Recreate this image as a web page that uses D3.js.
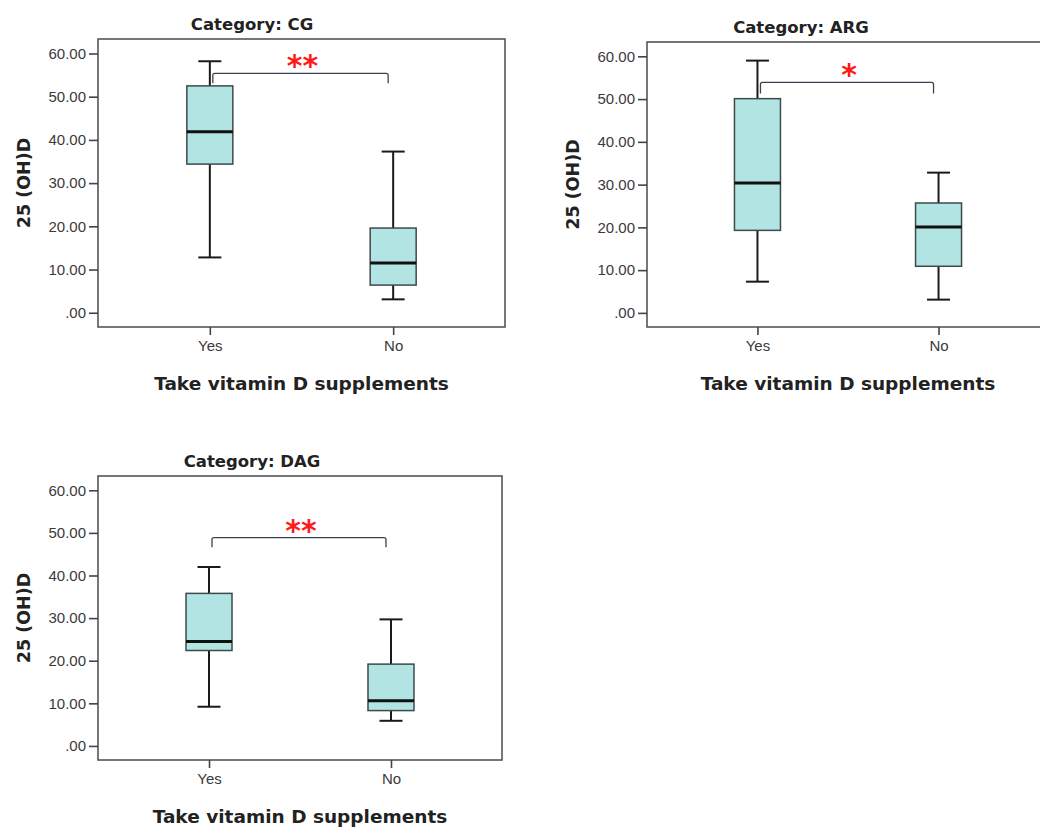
<!DOCTYPE html>
<html><head><meta charset="utf-8">
<script src="https://cdn.jsdelivr.net/npm/d3@7"></script>
<style>html,body{margin:0;padding:0;background:#fff;}</style>
</head><body>
<svg id="chart" width="1040" height="827"></svg>
<script>
// ---- data ----
const categories = ["Yes", "No"];
const panelNames = ["CG", "ARG", "DAG"];
const whiskerLow  = [[12.8, 3.1], [7.3, 3.1], [9.2, 5.9]];
const q1          = [[34.4, 6.4], [19.3, 10.9], [22.4, 8.3]];
const medians     = [[41.9, 11.5], [30.4, 20.1], [24.5, 10.6]];
const q3          = [[52.5, 19.6], [50.1, 25.7], [35.8, 19.2]];
const whiskerHigh = [[58.2, 37.3], [59.0, 32.8], [42.0, 29.7]];
const significance = ["**", "*", "**"];
const bracketLevel = [55.4, 53.9, 48.9];
const bracketFoot  = [53.1, 51.3, 46.6];
const yTicks = [0, 10, 20, 30, 40, 50, 60];
const xTitle = "Take vitamin D supplements";
const yTitle = "25 (OH)D";

// ---- layout ----
const frames = [
  {x0: 98,  x1: 505,  y0: 39,  y1: 327},
  {x0: 647, x1: 1049, y0: 42,  y1: 327},
  {x0: 98,  x1: 502,  y0: 476, y1: 760}
];
const svg = d3.select("#chart");
const sansReg = "'Liberation Sans', Arial, sans-serif";
const sansBold = "'DejaVu Sans', Verdana, sans-serif";

frames.forEach((f, i) => {
  const g = svg.append("g");
  const y = d3.scaleLinear().domain([-3.3, 63.35]).range([f.y1, f.y0]);
  const x = d3.scalePoint().domain(categories).range([f.x0, f.x1]).padding(0.61);

  // frame
  g.append("rect").attr("x", f.x0).attr("y", f.y0)
    .attr("width", f.x1 - f.x0).attr("height", f.y1 - f.y0)
    .attr("fill", "none").attr("stroke", "#555").attr("stroke-width", 1.6);

  // y axis
  const ya = g.append("g").attr("transform", `translate(${f.x0},0)`)
    .call(d3.axisLeft(y).tickValues(yTicks).tickSize(9).tickPadding(3)
      .tickFormat(d => d === 0 ? ".00" : d3.format(".2f")(d)));
  ya.select(".domain").remove();
  ya.selectAll(".tick line").attr("stroke", "#444").attr("stroke-width", 1.6);
  ya.selectAll(".tick text").attr("fill", "#3a3a3a").style("font-family", sansReg).style("font-size", "15px");

  // x axis
  const xa = g.append("g").attr("transform", `translate(0,${f.y1})`)
    .call(d3.axisBottom(x).tickSize(8).tickPadding(5));
  xa.select(".domain").remove();
  xa.selectAll(".tick line").attr("stroke", "#444").attr("stroke-width", 1.6);
  xa.selectAll(".tick text").attr("fill", "#3a3a3a").style("font-family", sansReg).style("font-size", "15px");

  // titles
  g.append("text").attr("x", f.x0 + 154).attr("y", f.y0 - 9)
    .attr("text-anchor", "middle").style("font-family", sansBold).style("font-weight", "bold")
    .style("font-size", "16.5px").attr("fill", "#222").text("Category: " + panelNames[i]);
  g.append("text").attr("x", (f.x0 + f.x1) / 2).attr("y", f.y1 + 63)
    .attr("text-anchor", "middle").style("font-family", sansBold).style("font-weight", "bold")
    .style("font-size", "18.5px").attr("fill", "#222").text(xTitle);
  g.append("text").attr("transform", `translate(${f.x0 - 68},${(f.y0 + f.y1) / 2}) rotate(-90)`)
    .attr("text-anchor", "middle").style("font-family", sansBold).style("font-weight", "bold")
    .style("font-size", "17.5px").attr("fill", "#222").text(yTitle);

  // boxes
  const boxW = 46, capW = 23;
  categories.forEach((c, j) => {
    const cx = x(c);
    g.append("line").attr("x1", cx).attr("x2", cx)
      .attr("y1", y(whiskerHigh[i][j])).attr("y2", y(q3[i][j]))
      .attr("stroke", "#1a1a1a").attr("stroke-width", 2);
    g.append("line").attr("x1", cx).attr("x2", cx)
      .attr("y1", y(q1[i][j])).attr("y2", y(whiskerLow[i][j]))
      .attr("stroke", "#1a1a1a").attr("stroke-width", 2);
    [whiskerHigh[i][j], whiskerLow[i][j]].forEach(v => {
      g.append("line").attr("x1", cx - capW / 2).attr("x2", cx + capW / 2)
        .attr("y1", y(v)).attr("y2", y(v))
        .attr("stroke", "#1a1a1a").attr("stroke-width", 2);
    });
    g.append("rect").attr("x", cx - boxW / 2).attr("y", y(q3[i][j]))
      .attr("width", boxW).attr("height", y(q1[i][j]) - y(q3[i][j]))
      .attr("fill", "#b3e4e4").attr("stroke", "#3c4a4a").attr("stroke-width", 1.5);
    g.append("line").attr("x1", cx - boxW / 2).attr("x2", cx + boxW / 2)
      .attr("y1", y(medians[i][j])).attr("y2", y(medians[i][j]))
      .attr("stroke", "#111").attr("stroke-width", 3);
  });

  // significance bracket
  const bx0 = x(categories[0]) + 3, bx1 = x(categories[1]) - 5;
  const by = y(bracketLevel[i]), bf = y(bracketFoot[i]);
  g.append("path")
    .attr("d", `M${bx0},${bf} L${bx0},${by + 2} Q${bx0},${by} ${bx0 + 2},${by} L${bx1 - 2},${by} Q${bx1},${by} ${bx1},${by + 2} L${bx1},${bf}`)
    .attr("fill", "none").attr("stroke", "#3a4450").attr("stroke-width", 1.3);
  g.append("text").attr("x", (bx0 + bx1) / 2 + 2).attr("y", by + 3)
    .attr("text-anchor", "middle").style("font-family", sansBold).style("font-weight", "bold")
    .style("font-size", "30px").attr("fill", "#ff1a1a").text(significance[i]);
});
</script>
</body></html>
